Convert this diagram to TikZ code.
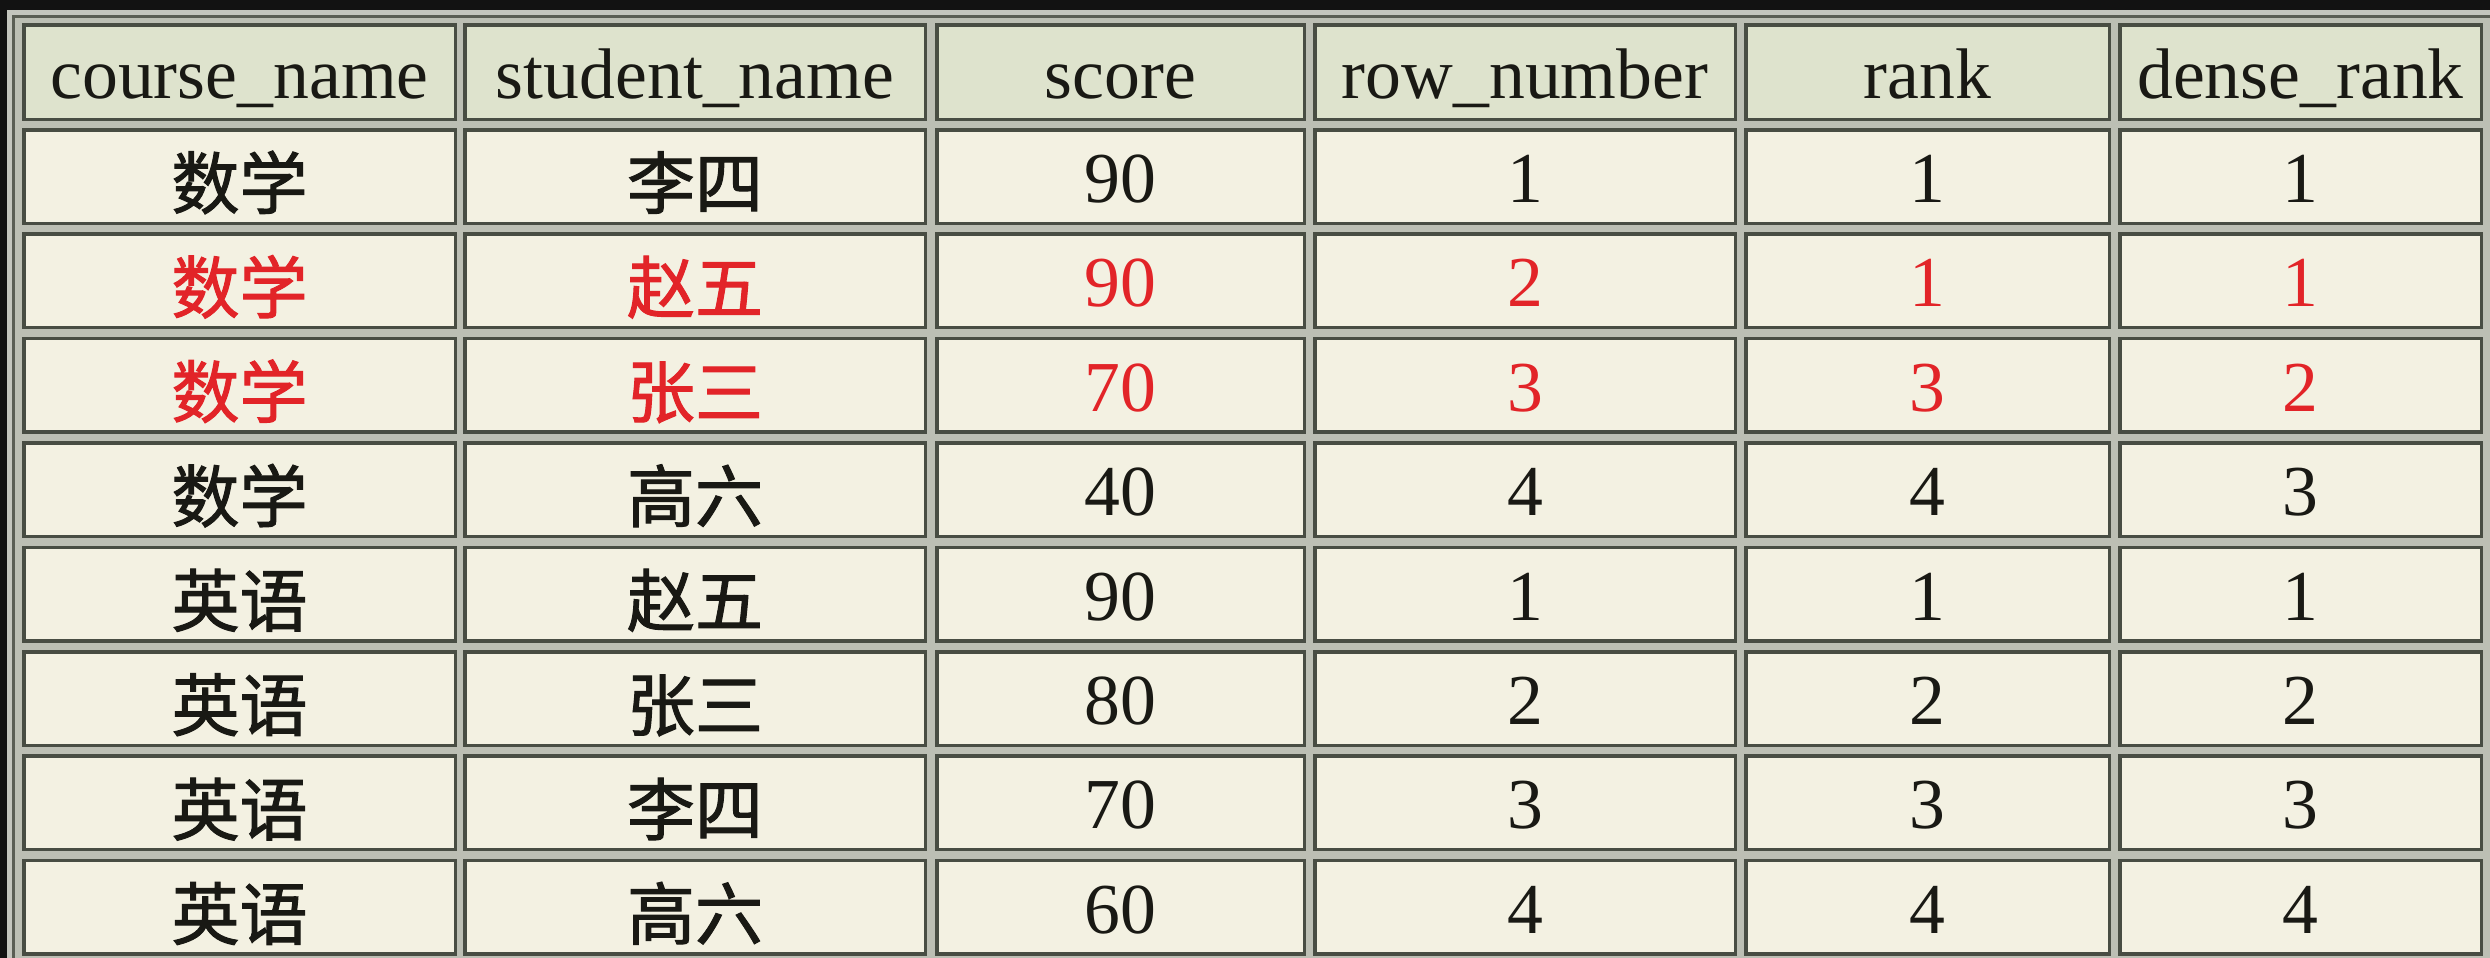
\documentclass[tikz,border=0pt]{standalone}
\usepackage{fontspec}
\setmainfont{Liberation Serif}
\newfontfamily\cjk{Noto Sans CJK SC}[FakeBold=1.5]
\definecolor{blackbg}{RGB}{18,18,18}
\definecolor{framelight}{RGB}{196,198,190}
\definecolor{framedark}{RGB}{90,94,84}
\definecolor{gapgray}{RGB}{188,191,180}
\definecolor{cellline}{RGB}{72,77,67}
\definecolor{headfill}{RGB}{222,227,205}
\definecolor{bodyfill}{RGB}{243,241,226}
\definecolor{ink}{RGB}{25,25,20}
\definecolor{redink}{RGB}{226,36,40}
\newcommand\zh[1]{\raisebox{-1.8pt}{\cjk\fontsize{20.4pt}{22pt}\selectfont #1}}
\def\colL{{22,463,935,1313,1744,2118}}
\def\colR{{457,927,1306,1737,2111,2483}}
\newcommand\tabrow[5]{%
  \foreach \ci/\ctext in {#4} {%
    \pgfmathsetmacro\colleft{\colL[\ci-1]}%
    \pgfmathsetmacro\colright{\colR[\ci-1]}%
    \pgfmathsetmacro\cellw{(\colright-\colleft-3.5)*0.3}%
    \pgfmathsetmacro\cellh{(#3-#2-3.5)*0.3}%
    \node[cellbox,#5,minimum width=\cellw pt,minimum height=\cellh pt] (#1c\ci) at ({(\colleft+\colright)/2},{(#2+#3)/2}) {\ctext};
  }}
\tikzset{
  cellbox/.style={draw=cellline, line width=1.05pt, inner sep=0pt,
    text height=17pt, text depth=1.4pt,
    font=\fontsize{21.5pt}{24pt}\selectfont, text=ink, fill=bodyfill},
  headcell/.style={fill=headfill},
  bodycell/.style={fill=bodyfill},
  redcell/.style={fill=bodyfill, text=redink}
}
\begin{document}
\begin{tikzpicture}[x=0.3pt,y=-0.3pt]
\useasboundingbox (0,0) rectangle (2490,958);
\fill[blackbg] (0,0) rectangle (2490,958);
\fill[framelight] (7,10) rectangle (2490,958);
\fill[framedark] (12,15) rectangle (2490,958);
\fill[gapgray] (15,18) rectangle (2490,958);
\tabrow{h}{23}{121}{1/course\_name,2/student\_name,3/score,4/row\_number,5/rank,6/dense\_rank}{headcell}
\tabrow{r1}{128}{225}{1/\zh{数学},2/\zh{李四},3/90,4/1,5/1,6/1}{bodycell}
\tabrow{r2}{232.4}{329.4}{1/\zh{数学},2/\zh{赵五},3/90,4/2,5/1,6/1}{redcell}
\tabrow{r3}{336.8}{433.8}{1/\zh{数学},2/\zh{张三},3/70,4/3,5/3,6/2}{redcell}
\tabrow{r4}{441.2}{538.2}{1/\zh{数学},2/\zh{高六},3/40,4/4,5/4,6/3}{bodycell}
\tabrow{r5}{545.6}{642.6}{1/\zh{英语},2/\zh{赵五},3/90,4/1,5/1,6/1}{bodycell}
\tabrow{r6}{650}{747}{1/\zh{英语},2/\zh{张三},3/80,4/2,5/2,6/2}{bodycell}
\tabrow{r7}{754.4}{851.4}{1/\zh{英语},2/\zh{李四},3/70,4/3,5/3,6/3}{bodycell}
\tabrow{r8}{858.8}{955.8}{1/\zh{英语},2/\zh{高六},3/60,4/4,5/4,6/4}{bodycell}
\end{tikzpicture}
\end{document}
